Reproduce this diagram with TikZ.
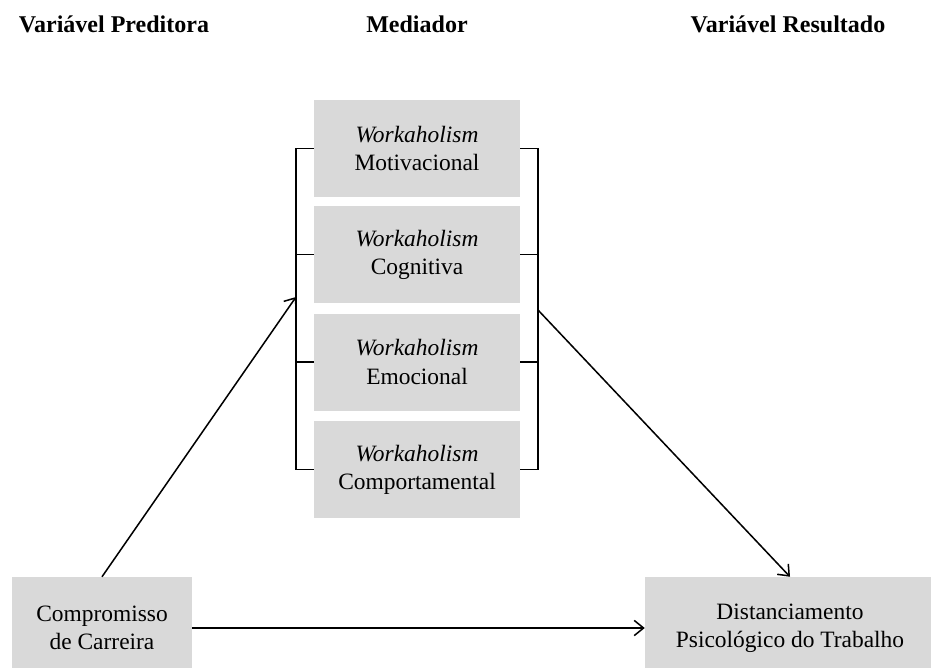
\documentclass[tikz,border=0pt]{standalone}
\usepackage{fontspec}
\setmainfont{Liberation Serif}
\usetikzlibrary{arrows.meta, positioning}
\definecolor{boxgray}{RGB}{217,217,217}
\tikzset{
    box_gray/.style={
        rectangle, fill=boxgray, draw=none, inner sep=0pt,
        align=center, font=\fontsize{20}{24}\selectfont
    },
    box_mediator/.style={
        box_gray, minimum width=6.18cm, minimum height=2.91cm
    },
    head_lbl/.style={
        font=\fontsize{20.5}{24}\selectfont\bfseries
    },
    link_arrow/.style={
        -{Straight Barb[length=8pt, width=13pt]}, line width=1.3pt, draw=black
    },
    bracket_line/.style={
        line width=1.4pt, draw=black
    }
}
\begin{document}
\begin{tikzpicture}[x=0.03cm, y=-0.03cm]

    \useasboundingbox (0,0) rectangle (931,667);

    % column headers
    \node[head_lbl] (h_pred) at (114,24) {Variável Preditora};
    \node[head_lbl] (h_med) at (417,24) {Mediador};
    \node[head_lbl] (h_res) at (788,24) {Variável Resultado};

    % mediators
    \node[box_mediator] (med_mot) at (417,148.5) {\textit{Workaholism}\\Motivacional};
    \node[box_mediator] (med_cog) at (417,254.5) {\textit{Workaholism}\\Cognitiva};
    \node[box_mediator] (med_emo) at (417,362) {\textit{Workaholism}\\Emocional};
    \node[box_mediator] (med_comp) at (417,469.5) {\textit{Workaholism}\\Comportamental};

    \node[box_gray, minimum width=5.4cm, minimum height=3.06cm] (carreira) at (102,628) {Compromisso\\de Carreira};
    \node[box_gray, minimum width=8.7cm, minimum height=3.06cm] (distanc) at (790,628) {Distanciamento\\Psicológico do Trabalho};

    % brackets
    \draw[bracket_line] (med_mot.west) -- ++(-18,0) |- (med_comp.west);
    \draw[bracket_line] (med_cog.west) -- ++(-18,0);
    \draw[bracket_line] (med_emo.west) -- ++(-18,0);
    \draw[bracket_line] (med_mot.east) -- ++(18,0) |- (med_comp.east);
    \draw[bracket_line] (med_cog.east) -- ++(18,0);
    \draw[bracket_line] (med_emo.east) -- ++(18,0);

    \coordinate (lb) at (296,297);
    \coordinate (rb) at (538,310);

    \draw[link_arrow] (carreira.north) -- (lb);
    \draw[link_arrow] (rb) -- (distanc.north);
    \draw[link_arrow] (carreira.east) -- (distanc.west);

\end{tikzpicture}
\end{document}
